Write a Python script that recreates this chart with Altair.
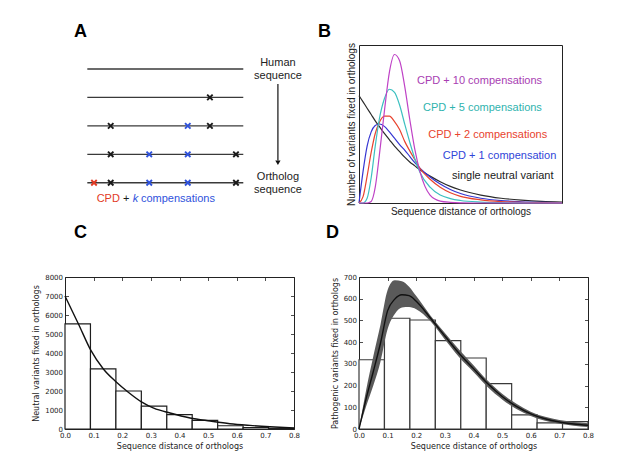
import altair as alt
import pandas as pd

SANS = "Liberation Sans"
MPL = "DejaVu Sans"

# ---------------- Panel A: schematic of sequences ----------------
seq_rows = [0, 1, 2, 3, 4]
sub_row = [1, 2, 2, 2, 3, 3, 3, 3, 4, 4, 4, 4, 4]
sub_pos = [0.786, 0.150, 0.644, 0.786, 0.150, 0.397, 0.644, 0.953,
           0.043, 0.150, 0.397, 0.644, 0.953]
sub_kind = ["neutral", "neutral", "compensation", "neutral",
            "neutral", "compensation", "compensation", "neutral",
            "cpd", "neutral", "compensation", "compensation", "neutral"]
kind_names = ["neutral", "compensation", "cpd"]
kind_colors = ["#1a1a1a", "#2f52dc", "#e23a24"]

side_text = ["Human", "sequence", "Ortholog", "sequence"]
side_x = [1.222, 1.222, 1.222, 1.222]
side_y = [-0.222, 0.246, 3.79, 4.256]

cpd_parts = ["CPD", "+", "compensations"]
cpd_x = [0.060, 0.229, 0.344]
cpd_colors = ["#e23a24", "#1a1a1a", "#2f52dc"]
cpd_y = 4.573
k_x = 0.291

xa = alt.Scale(domain=[-0.143, 1.37], nice=False, zero=False)
ya = alt.Scale(domain=[-0.844, 4.713], reverse=True, nice=False, zero=False)

seq_df = pd.DataFrame({"row": seq_rows, "start": 0.0, "end": 1.0})
sub_df = pd.DataFrame({"row": sub_row, "pos": sub_pos, "kind": sub_kind})
side_df = pd.DataFrame({"x": side_x, "y": side_y, "t": side_text})
cpd_df = pd.DataFrame({"x": cpd_x, "y": cpd_y, "t": cpd_parts, "c": cpd_colors})
k_df = pd.DataFrame({"x": [k_x], "y": [cpd_y], "t": ["k"]})
arrow_df = pd.DataFrame({"x": [1.222], "y0": [0.53], "y1": [3.22], "tip": [3.30]})

a_lines = alt.Chart(seq_df).mark_rule(color="#3a3a3a", strokeWidth=1.3).encode(
    x=alt.X("start:Q", scale=xa, axis=None), x2="end:Q",
    y=alt.Y("row:Q", scale=ya, axis=None))
a_subs = alt.Chart(sub_df).mark_point(
    shape="M-1,-1L1,1M-1,1L1,-1", size=30, strokeWidth=1.9, filled=False, opacity=1
).encode(
    x=alt.X("pos:Q", scale=xa, axis=None),
    y=alt.Y("row:Q", scale=ya, axis=None),
    color=alt.Color("kind:N", scale=alt.Scale(domain=kind_names, range=kind_colors), legend=None))
a_side = alt.Chart(side_df).mark_text(font=SANS, fontSize=11, color="#222", baseline="middle").encode(
    x=alt.X("x:Q", scale=xa, axis=None), y=alt.Y("y:Q", scale=ya, axis=None), text="t:N")
a_arrow = alt.Chart(arrow_df).mark_rule(color="#111", strokeWidth=1.2).encode(
    x=alt.X("x:Q", scale=xa, axis=None), y=alt.Y("y0:Q", scale=ya, axis=None), y2="y1:Q")
a_head = alt.Chart(arrow_df).mark_point(shape="triangle-down", filled=True, size=28, color="#111", opacity=1).encode(
    x=alt.X("x:Q", scale=xa, axis=None), y=alt.Y("tip:Q", scale=ya, axis=None))
a_cpd = alt.Chart(cpd_df).mark_text(font=SANS, fontSize=11, align="left", baseline="middle").encode(
    x=alt.X("x:Q", scale=xa, axis=None), y=alt.Y("y:Q", scale=ya, axis=None), text="t:N",
    color=alt.Color("c:N", scale=None))
a_k = alt.Chart(k_df).mark_text(font=SANS, fontSize=11, align="left", baseline="middle",
                                fontStyle="italic", color="#2f52dc").encode(
    x=alt.X("x:Q", scale=xa, axis=None), y=alt.Y("y:Q", scale=ya, axis=None), text="t:N")


def letter_title(letter, offset, dx, dy):
    return alt.TitleParams(letter, anchor="start", frame="group", font=SANS, fontSize=18,
                           fontWeight="bold", color="black", baseline="alphabetic",
                           offset=offset, dx=dx, dy=dy)


panel_a = alt.layer(a_lines, a_subs, a_side, a_arrow, a_head, a_cpd, a_k).resolve_scale(
    color="independent").properties(
    width=236, height=158,
    view=alt.ViewBackground(stroke="transparent"),
    title=letter_title("A", 7, 9, 17))

# ---------------- Panel B: model curves ----------------
b_x = [0, 0.02, 0.04, 0.06, 0.08, 0.10, 0.125, 0.15, 0.175, 0.20, 0.225, 0.25,
       0.275, 0.30, 0.35, 0.40, 0.45, 0.50, 0.60, 0.70, 0.80, 0.90, 1.0]
b_neutral = [0.68, 0.64, 0.60, 0.56, 0.52, 0.485, 0.44, 0.40, 0.36, 0.325, 0.29, 0.26,
             0.235, 0.21, 0.17, 0.135, 0.105, 0.082, 0.05, 0.03, 0.018, 0.01, 0.006]
b_cpd1 = [0, 0.20, 0.36, 0.45, 0.49, 0.50, 0.485, 0.45, 0.41, 0.37, 0.335, 0.295,
          0.255, 0.22, 0.165, 0.12, 0.085, 0.06, 0.03, 0.015, 0.008, 0.004, 0.002]
b_cpd2 = [0, 0.04, 0.17, 0.32, 0.44, 0.51, 0.55, 0.55, 0.515, 0.465, 0.39, 0.33,
          0.275, 0.22, 0.15, 0.10, 0.065, 0.042, 0.02, 0.009, 0.004, 0.002, 0.001]
b_cpd5 = [0, 0, 0.03, 0.16, 0.36, 0.53, 0.66, 0.72, 0.70, 0.62, 0.50, 0.385,
          0.28, 0.195, 0.10, 0.05, 0.028, 0.016, 0.006, 0.002, 0.001, 0, 0]
b_cpd10 = [0, 0, 0, 0.01, 0.10, 0.30, 0.58, 0.83, 0.94, 0.90, 0.74, 0.53,
           0.34, 0.20, 0.05, 0.012, 0.004, 0.001, 0, 0, 0, 0, 0]

b_names = ["single neutral variant", "CPD + 1 compensation", "CPD + 2 compensations",
           "CPD + 5 compensations", "CPD + 10 compensations"]
b_line_colors = ["#2b2b2b", "#3535d2", "#e8432e", "#3cc0c0", "#bf42c6"]
b_text_colors = ["#1a1a1a", "#2f45d8", "#e8432e", "#2fb3ae", "#a83db2"]
b_label_x = [0.458, 0.413, 0.341, 0.315, 0.286]
b_label_y = [0.168, 0.299, 0.432, 0.600, 0.772]

b_rows = []
for name, ys in zip(b_names, [b_neutral, b_cpd1, b_cpd2, b_cpd5, b_cpd10]):
    for xv, yv in zip(b_x, ys):
        b_rows.append({"x": xv, "y": yv, "series": name})
b_df = pd.DataFrame(b_rows)
b_lab = pd.DataFrame({"x": b_label_x, "y": b_label_y, "t": b_names, "c": b_text_colors})

xb = alt.Scale(domain=[0, 1], nice=False)
yb = alt.Scale(domain=[0, 1], nice=False)
b_axis_x = alt.Axis(title="Sequence distance of orthologs", labels=False, ticks=False,
                    domain=False, grid=False, titleFont=SANS, titleFontSize=10,
                    titleFontWeight="normal", titleColor="#222", titlePadding=3)
b_axis_y = alt.Axis(title="Number of variants fixed in orthologs", labels=False, ticks=False,
                    domain=False, grid=False, titleFont=SANS, titleFontSize=10,
                    titleFontWeight="normal", titleColor="#222", titlePadding=3)

b_lines = alt.Chart(b_df).mark_line(strokeWidth=1.2, interpolate="monotone").encode(
    x=alt.X("x:Q", scale=xb, axis=b_axis_x),
    y=alt.Y("y:Q", scale=yb, axis=b_axis_y),
    color=alt.Color("series:N", scale=alt.Scale(domain=b_names, range=b_line_colors), legend=None),
    detail="series:N")
b_text = alt.Chart(b_lab).mark_text(font=SANS, fontSize=11, align="left", baseline="middle").encode(
    x=alt.X("x:Q", scale=xb), y=alt.Y("y:Q", scale=yb), text="t:N",
    color=alt.Color("c:N", scale=None))

panel_b = alt.layer(b_lines, b_text).resolve_scale(color="independent").properties(
    width=203, height=158,
    title=letter_title("B", 7, -41, 19))

# ---------------- Histogram panels C and D ----------------
bin_edges = [0.0, 0.0889, 0.1778, 0.2667, 0.3556, 0.4444, 0.5333, 0.6222, 0.7111, 0.8]

c_counts = [5530, 3160, 2000, 1200, 760, 450, 170, 80, 30]
c_fit_x = [0, 0.047, 0.09, 0.134, 0.177, 0.22, 0.267, 0.31, 0.367, 0.437,
           0.507, 0.576, 0.646, 0.716, 0.8]
c_fit_y = [7000, 5530, 4150, 3160, 2500, 1950, 1430, 1100, 840, 580,
           420, 280, 190, 120, 55]

d_counts = [319, 510, 502, 407, 327, 209, 65, 28, 34]
d_fit_x = [0, 0.025, 0.05, 0.075, 0.1, 0.125, 0.15, 0.175, 0.2, 0.25, 0.3,
           0.35, 0.4, 0.45, 0.5, 0.55, 0.6, 0.65, 0.7, 0.75, 0.8]
d_fit_mid = [0, 140, 265, 395, 545, 598, 618, 614, 588, 510, 428,
             348, 278, 208, 150, 104, 70, 47, 32, 23, 17]
d_fit_hi = [0, 180, 335, 480, 640, 685, 680, 655, 612, 522, 442,
            365, 294, 222, 162, 116, 80, 56, 41, 32, 27]
d_fit_lo = [0, 105, 200, 310, 460, 530, 560, 562, 552, 496, 412,
            330, 262, 192, 136, 92, 60, 38, 24, 15, 9]

TICK = 3.5


def main_axis(orient, title, values, fmt):
    return alt.Axis(orient=orient, title=title, values=values, format=fmt, grid=False,
                    domain=False, ticks=True, tickSize=TICK, offset=-TICK,
                    tickColor="#222", tickWidth=0.8,
                    labelFont=MPL, labelFontSize=7, labelColor="#222", labelPadding=2.5,
                    titleFont=MPL, titleFontSize=8, titleFontWeight="normal",
                    titleColor="#222", titlePadding=4, labelFlush=False, labelOverlap=False)


def mirror_axis(orient, values):
    return alt.Axis(orient=orient, title=None, values=values, labels=False, grid=False,
                    domain=False, ticks=True, tickSize=TICK, offset=-TICK,
                    tickColor="#222", tickWidth=0.8)


x_ticks = [0.0, 0.1, 0.2, 0.3, 0.4, 0.5, 0.6, 0.7, 0.8]
x_title = "Sequence distance of orthologs"


def hist_panel(counts, ymax, ystep, ytitle, letter, bar_stroke, extra_layers, curve_df, dx):
    y_ticks = list(range(0, ymax + 1, ystep))
    xs = alt.Scale(domain=[0, 0.8], nice=False)
    ys = alt.Scale(domain=[0, ymax], nice=False)
    bars_df = pd.DataFrame({"lo": bin_edges[:-1], "hi": bin_edges[1:], "n": counts, "base": 0})
    bars = alt.Chart(bars_df).mark_rect(fill="white", stroke=bar_stroke, strokeWidth=1.2).encode(
        x=alt.X("lo:Q", scale=xs, axis=main_axis("bottom", x_title, x_ticks, ".1f")),
        x2="hi:Q",
        y=alt.Y("n:Q", scale=ys, axis=main_axis("left", ytitle, y_ticks, "d")),
        y2="base:Q")
    curve = alt.Chart(curve_df).mark_line(color="#111", strokeWidth=1.4, interpolate="monotone").encode(
        x=alt.X("x:Q", scale=xs, axis=mirror_axis("top", x_ticks)),
        y=alt.Y("y:Q", scale=ys, axis=mirror_axis("right", y_ticks)))
    layers = [bars] + [make(xs, ys) for make in extra_layers] + [curve]
    return alt.layer(*layers).resolve_axis(x="independent", y="independent").properties(
        width=229, height=152,
        title=letter_title(letter, 36, dx, 19))


c_curve = pd.DataFrame({"x": c_fit_x, "y": c_fit_y})
panel_c = hist_panel(c_counts, 8000, 1000, "Neutral variants fixed in orthologs", "C",
                     "#1e1e1e", [], c_curve, 9)

d_band_df = pd.DataFrame({"x": d_fit_x, "lo": d_fit_lo, "hi": d_fit_hi})


def d_band(xs, ys):
    return alt.Chart(d_band_df).mark_area(color="#5a5a5a", opacity=1, interpolate="monotone").encode(
        x=alt.X("x:Q", scale=xs, axis=None), y=alt.Y("hi:Q", scale=ys, axis=None), y2="lo:Q")


d_curve = pd.DataFrame({"x": d_fit_x, "y": d_fit_mid})
panel_d = hist_panel(d_counts, 700, 100, "Pathogenic variants fixed in orthologs", "D",
                     "#3a3a3a", [d_band], d_curve, -33)

chart = alt.concat(
    panel_a, panel_b, panel_c, panel_d,
    columns=2, spacing={"row": 74, "column": 58}, bounds="flush", align="none",
).properties(
    autosize=alt.AutoSizeParams(type="none"),
    padding={"left": 65, "top": 45, "right": 557, "bottom": 411},
    background="white",
).configure_view(stroke="#222", strokeWidth=1).configure_axis(grid=False)

chart.save("out.html", embed_options={"renderer": "svg", "actions": False})
